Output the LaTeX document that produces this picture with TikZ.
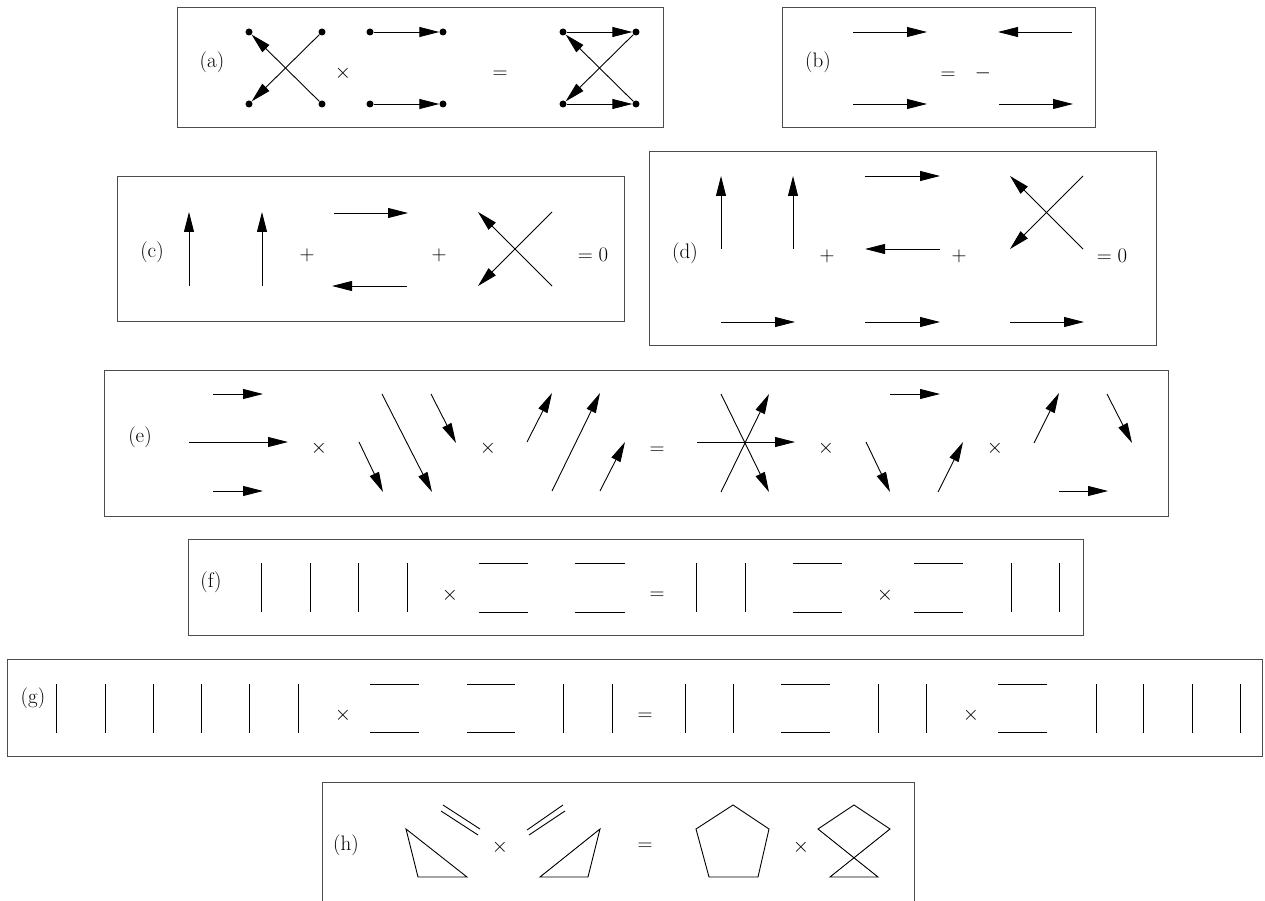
\documentclass[tikz,border=0pt]{standalone}
\usetikzlibrary{arrows.meta}
\begin{document}
\begin{tikzpicture}[x=1pt,y=-1pt,
  ln/.style={line width=0.9pt},
  arr/.style={line width=0.9pt,-{Triangle[length=20pt,width=10pt]}},
  frame/.style={draw=black!70,line width=1pt},
  txt/.style={font=\fontsize{21}{25}\selectfont,inner sep=0pt},
  dot/.style={circle,fill,inner sep=0pt,minimum size=7pt}]
\useasboundingbox (0,0) rectangle (1265,901);
\clip (0,0) rectangle (1265,901);

% ---------- (a)
\draw[frame] (177,8) rectangle (663,128);
\node[txt] (la) at (212,62) {(a)};
\node[dot] (a1) at (249,32) {};
\node[dot] (a2) at (322,32) {};
\node[dot] (a3) at (249,104) {};
\node[dot] (a4) at (322,104) {};
\draw[arr] (a4) -- (a1);
\draw[arr] (a2) -- (a3);
\node[txt] (ta) at (343,73) {$\times$};
\node[dot] (b1) at (370,32) {};
\node[dot] (b2) at (443,32) {};
\node[dot] (b3) at (370,104) {};
\node[dot] (b4) at (443,104) {};
\draw[arr] (b1) -- (b2);
\draw[arr] (b3) -- (b4);
\node[txt] (ea) at (500,75) {$=$};
\node[dot] (c1) at (563,32) {};
\node[dot] (c2) at (636,32) {};
\node[dot] (c3) at (563,104) {};
\node[dot] (c4) at (636,104) {};
\draw[arr] (c1) -- (c2);
\draw[arr] (c3) -- (c4);
\draw[arr] (c4) -- (c1);
\draw[arr] (c2) -- (c3);

% ---------- (b)
\draw[frame] (782,8) rectangle (1095,128);
\node[txt] (lb) at (818,62) {(b)};
\draw[arr] (853,32) -- (927,32);
\draw[arr] (853,104) -- (927,104);
\draw[arr] (1072,32) -- (998,32);
\draw[arr] (999,104) -- (1073,104);
\node[txt] (eb) at (948,76) {$=$};
\node[txt] (mb) at (983,73) {$-$};

% ---------- (c)
\draw[frame] (117,177) rectangle (624,321);
\node[txt] (lc) at (152,252) {(c)};
\draw[arr] (189,286) -- (189,212);
\draw[arr] (262,286) -- (262,212);
\node[txt] (pc1) at (307,255) {$+$};
\draw[arr] (334,213) -- (408,213);
\draw[arr] (407,286) -- (332,286);
\node[txt] (pc2) at (439,255) {$+$};
\draw[arr] (552,286) -- (478,212);
\draw[arr] (552,212) -- (478,286);
\node[txt] (zc) at (593,255) {$=0$};

% ---------- (d)
\draw[frame] (649,152) rectangle (1156,345);
\node[txt] (ld) at (685,253) {(d)};
\draw[arr] (721,249) -- (721,176);
\draw[arr] (793,249) -- (793,176);
\node[txt] (pd1) at (827,256) {$+$};
\draw[arr] (865,176) -- (940,176);
\draw[arr] (940,249) -- (865,249);
\node[txt] (pd2) at (959,256) {$+$};
\draw[arr] (1083,249) -- (1010,176);
\draw[arr] (1083,176) -- (1010,249);
\node[txt] (zd) at (1112,256) {$=0$};
\draw[arr] (721,322) -- (795,322);
\draw[arr] (865,322) -- (940,322);
\draw[arr] (1010,322) -- (1084,322);

% ---------- (e)
\draw[frame] (104,370) rectangle (1168,516);
\node[txt] (le) at (140,437) {(e)};
\draw[arr] (213,394) -- (263,394);
\draw[arr] (189,442) -- (288,442);
\draw[arr] (213,491) -- (263,491);
\node[txt] (te1) at (319,448) {$\times$};
\draw[arr] (359,442) -- (383,492);
\draw[arr] (382,394) -- (432,492);
\draw[arr] (431,394) -- (456,443);
\node[txt] (te2) at (488,448) {$\times$};
\draw[arr] (527,442) -- (552,393);
\draw[arr] (552,491) -- (600,393);
\draw[arr] (600,491) -- (625,442);
\node[txt] (ee) at (657,451) {$=$};
\draw[arr] (721,394) -- (769,492);
\draw[arr] (721,492) -- (769,394);
\draw[arr] (697,442) -- (795,442);
\node[txt] (te3) at (826,448) {$\times$};
\draw[arr] (890,394) -- (940,394);
\draw[arr] (866,442) -- (890,492);
\draw[arr] (938,492) -- (963,442);
\node[txt] (te4) at (995,448) {$\times$};
\draw[arr] (1034,443) -- (1059,393);
\draw[arr] (1107,394) -- (1132,443);
\draw[arr] (1059,491) -- (1108,491);

% ---------- (f)
\draw[frame] (188,539) rectangle (1083,635);
\node[txt] (lf) at (211,582) {(f)};
\foreach \x in {261,310,358,407,696,745,1011,1059}
  \draw[ln] (\x,563) -- (\x,612);
\foreach \a/\b in {479/528,575/625,793/842,914/963}{
  \draw[ln] (\a,563) -- (\b,563);
  \draw[ln] (\a,612) -- (\b,612);}
\node[txt] (tf1) at (450,595) {$\times$};
\node[txt] (ef) at (657,596) {$=$};
\node[txt] (tf2) at (885,595) {$\times$};

% ---------- (g)
\draw[frame] (7,659) rectangle (1262,756);
\node[txt] (lg) at (33,698) {(g)};
\foreach \x in {56,105,153,201,249,298,563,612,685,733,878,926,1096,1143,1192,1240}
  \draw[ln] (\x,684) -- (\x,733);
\foreach \a/\b in {370/419,467/515,781/830,998/1047}{
  \draw[ln] (\a,684) -- (\b,684);
  \draw[ln] (\a,732) -- (\b,732);}
\node[txt] (tg1) at (343,715) {$\times$};
\node[txt] (eg) at (645,717) {$=$};
\node[txt] (tg2) at (971,715) {$\times$};

% ---------- (h)
\draw[frame] (322,905) -- (322,782) -- (914,782) -- (914,905);
\node[txt] (lh) at (346,845) {(h)};
\draw[ln,line join=miter] (406,829) -- (418,877) -- (467,877) -- cycle;
\draw[ln] (443,805) -- (480,829);
\draw[ln] (441,811) -- (478,835);
\node[txt] (th1) at (500,847) {$\times$};
\draw[ln] (527,830) -- (563,805);
\draw[ln] (529,835) -- (565,811);
\draw[ln,line join=miter] (540,877) -- (588,877) -- (600,829) -- cycle;
\node[txt] (eh) at (645,847) {$=$};
\draw[ln] (733,805) -- (769,829) -- (758,877) -- (709,877) -- (696,829) -- cycle;
\node[txt] (th2) at (801,847) {$\times$};
\draw[ln] (818,829) -- (854,805) -- (890,829) -- (830,877) -- (878,877) -- cycle;
\end{tikzpicture}
\end{document}
